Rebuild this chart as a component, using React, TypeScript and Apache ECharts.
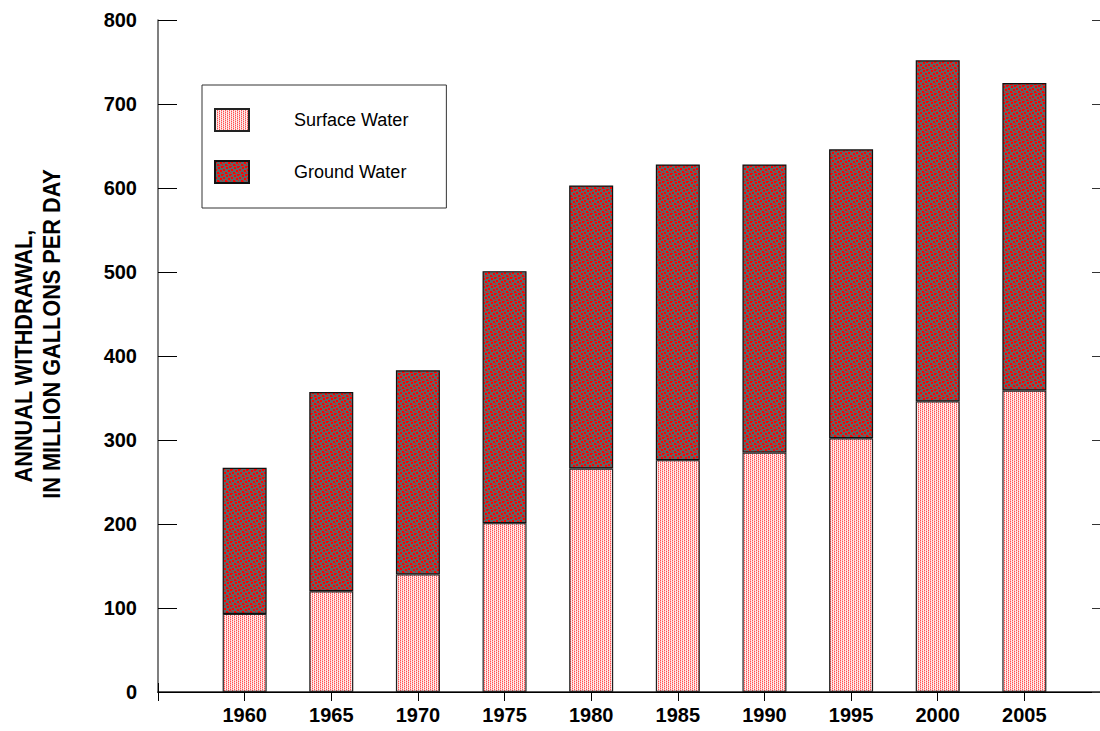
import React, { useEffect, useRef } from "react";
import * as echarts from "echarts";

const years = [1960, 1965, 1970, 1975, 1980, 1985, 1990, 1995, 2000, 2005];
const surfaceWater = [93, 120, 140, 201, 266, 276, 285, 302, 346, 359];
const groundWater = [174, 237, 243, 300, 337, 352, 343, 344, 406, 366];
const yTicks = [0, 100, 200, 300, 400, 500, 600, 700, 800];
const yTitleLines = ["ANNUAL WITHDRAWAL,", "IN MILLION GALLONS PER DAY"];

const FONT = "'Liberation Sans', Arial, sans-serif";

function makeTile(w: number, h: number, bg: string, dots: [number, number, number, number, string][]) {
  const c = document.createElement("canvas");
  c.width = w;
  c.height = h;
  const ctx = c.getContext("2d")!;
  ctx.fillStyle = bg;
  ctx.fillRect(0, 0, w, h);
  dots.forEach(([x, y, dw, dh, col]) => {
    ctx.fillStyle = col;
    ctx.fillRect(x, y, dw, dh);
  });
  return { image: c, repeat: "repeat", imageWidth: w, imageHeight: h } as any;
}

export default function App() {
  const ref = useRef<HTMLDivElement>(null);
  useEffect(() => {
    if (!ref.current) return;
    const chart = echarts.init(ref.current, null, { renderer: "svg" });
    const surfacePattern = makeTile(4, 2, "#fff4f4", [
      [0, 0, 1, 1, "#ff5050"],
      [0, 1, 1, 1, "#ffb0b0"],
      [2, 0, 1, 1, "#ffb0b0"],
      [2, 1, 1, 1, "#ff5050"],
      [1, 0, 1, 1, "#ffe0e0"],
      [3, 1, 1, 1, "#ffe0e0"],
    ]);
    const groundPattern = makeTile(8, 8, "#646464", [
      [0, 0, 2, 2, "#ff0000"],
      [5, 1, 2, 2, "#ff0000"],
      [2, 3, 2, 2, "#ff0000"],
      [6, 5, 2, 2, "#ff0000"],
      [3, 6, 2, 2, "#ff0000"],
      [0, 5, 1, 1, "#ff0000"],
      [4, 4, 1, 1, "#e01818"],
      [7, 3, 1, 1, "#e01818"],
    ]);
    // category slots: one empty slot before and after the years (axis spans 1955..2010)
    const cats = [String(years[0] - 5), ...years.map(String), String(years[years.length - 1] + 5)];
    const pad = (arr: number[]) => [null, ...arr, null];
    const labelStyle = { fontFamily: FONT, fontWeight: "bold" as const, fontSize: 20, color: "#000" };
    chart.setOption({
      animation: false,
      backgroundColor: "#ffffff",
      grid: { left: 158, top: 20, width: 953, height: 672, outerBoundsMode: "none" },
      legend: {
        orient: "vertical",
        left: 202,
        top: 85,
        padding: [23, 38, 24, 12],
        borderColor: "#333",
        borderWidth: 1,
        icon: "rect",
        itemWidth: 34,
        itemHeight: 22,
        itemGap: 28,
        textStyle: { fontFamily: FONT, fontSize: 18, color: "#000", padding: [0, 0, 0, 40] },
        data: ["Surface Water", "Ground Water"],
      },
      xAxis: [
        {
          type: "category",
          position: "bottom",
          data: cats,
          boundaryGap: false,
          axisLine: { lineStyle: { color: "#222", width: 1.5 } },
          axisTick: { inside: true, length: 9, interval: 0, lineStyle: { color: "#000" } },
          axisLabel: {
            ...labelStyle,
            margin: 13,
            interval: 0,
            formatter: (v: string, i: number) => (i === 0 || i === cats.length - 1 ? "" : v),
          },
        },
        {
          type: "category",
          position: "top",
          data: cats,
          boundaryGap: false,
          axisLine: { lineStyle: { color: "#000", width: 1 } },
          axisTick: { inside: true, length: 9, interval: 0, lineStyle: { color: "#000" } },
          axisLabel: { show: false },
        },
      ],
      yAxis: [
        {
          type: "value",
          position: "left",
          min: yTicks[0],
          max: yTicks[yTicks.length - 1],
          interval: 100,
          splitLine: { show: false },
          axisLine: { show: true, lineStyle: { color: "#555", width: 1.5 } },
          axisTick: { show: true, inside: true, length: 19, lineStyle: { color: "#000" } },
          axisLabel: { ...labelStyle, margin: 21 },
        },
        {
          type: "value",
          position: "right",
          min: yTicks[0],
          max: yTicks[yTicks.length - 1],
          interval: 100,
          splitLine: { show: false },
          axisLine: { show: true, lineStyle: { color: "#000" } },
          axisTick: { show: true, inside: true, length: 19, lineStyle: { color: "#333" } },
          axisLabel: { show: false },
        },
      ],
      graphic: [
        {
          type: "text",
          x: 24,
          y: 356,
          rotation: Math.PI / 2,
          scaleX: 0.905,
          style: { text: yTitleLines[0], fontFamily: FONT, fontWeight: "bold", fontSize: 24, fill: "#000", align: "center", verticalAlign: "middle" },
        },
        {
          type: "text",
          x: 52,
          y: 334,
          rotation: Math.PI / 2,
          scaleX: 0.905,
          style: { text: yTitleLines[1], fontFamily: FONT, fontWeight: "bold", fontSize: 24, fill: "#000", align: "center", verticalAlign: "middle" },
        },
      ],
      series: [
        {
          name: "Surface Water",
          type: "bar",
          stack: "total",
          barWidth: 44,
          xAxisIndex: 0,
          yAxisIndex: 0,
          itemStyle: { color: surfacePattern, borderColor: "#222", borderWidth: 1.2 },
          data: pad(surfaceWater),
        },
        {
          name: "Ground Water",
          type: "bar",
          stack: "total",
          barWidth: 44,
          xAxisIndex: 0,
          yAxisIndex: 0,
          itemStyle: { color: groundPattern, borderColor: "#111", borderWidth: 1.2 },
          data: pad(groundWater),
        },
      ],
    });
    return () => chart.dispose();
  }, []);
  return <div ref={ref} style={{ position: "absolute", left: 0, top: 0, width: 1100, height: 731 }} />;
}
